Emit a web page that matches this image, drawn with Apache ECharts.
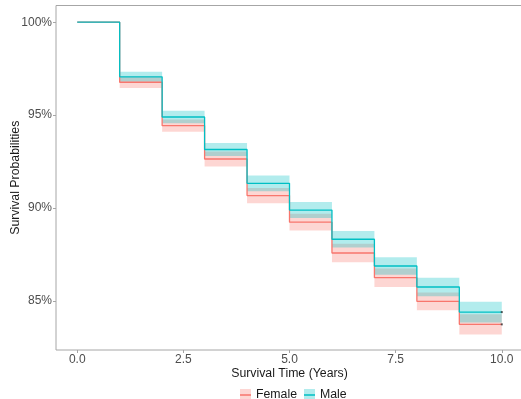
<!DOCTYPE html>
<html>
<head>
<meta charset="utf-8">
<script src="https://cdn.jsdelivr.net/npm/echarts@6/dist/echarts.min.js"></script>
<style>html,body{margin:0;padding:0;background:#fff}#c{width:521px;height:399px}</style>
</head>
<body>
<div id="c"></div>
<script>
// Time points (years); value i holds on [years[i], years[i+1]]
const years = [0, 1, 2, 3, 4, 5, 6, 7, 8, 9, 10];
const femaleSurv  = [100, 96.77, 94.43, 92.64, 90.67, 89.24, 87.58, 86.25, 84.98, 83.74];
const femaleLower = [100, 96.46, 94.10, 92.24, 90.26, 88.79, 87.08, 85.75, 84.50, 83.20];
const femaleUpper = [100, 97.08, 94.76, 93.04, 91.08, 89.69, 88.08, 86.75, 85.46, 84.28];
const maleSurv  = [100, 97.06, 94.90, 93.15, 91.33, 89.89, 88.32, 86.88, 85.75, 84.40];
const maleLower = [100, 96.79, 94.56, 92.80, 90.91, 89.46, 87.87, 86.41, 85.25, 83.84];
const maleUpper = [100, 97.33, 95.24, 93.50, 91.75, 90.32, 88.77, 87.35, 86.25, 84.96];
const xTicks = [0, 2.5, 5, 7.5, 10];
const yTicks = [85, 90, 95, 100];
const groups = ['Female', 'Male'];

const FEMALE = '#F8766D', MALE = '#00BFC4';
const FEMALE_BAND = 'rgba(248,118,109,0.3)', MALE_BAND = 'rgba(0,191,196,0.3)';
const FONT = '"Liberation Sans", Arial, sans-serif';
const LINE_SUFFIX = ' line';
const LINE_ICON = 'path://M0,0h0.02v0.02h-0.02z M0,5.3h11v1.4h-11z M10.98,11.98h0.02v0.02h-0.02z';

function stepData(surv) {
  return years.map((x, i) => [x, surv[Math.min(i, surv.length - 1)]]);
}
function bandData(lo, hi) {
  const out = [];
  for (let i = 1; i < lo.length; i++) out.push([years[i], years[i + 1], lo[i], hi[i]]);
  return out;
}
function bandSeries(name, lo, hi, color, z) {
  return {
    name: name, type: 'custom', z: z, silent: true,
    data: bandData(lo, hi),
    itemStyle: { color: color },
    encode: { x: [0, 1], y: [2, 3] },
    renderItem: function (params, api) {
      const p0 = api.coord([api.value(0), api.value(3)]);
      const p1 = api.coord([api.value(1), api.value(2)]);
      return { type: 'rect', shape: { x: p0[0], y: p0[1], width: p1[0] - p0[0], height: p1[1] - p0[1] },
               style: { fill: color } };
    }
  };
}
function lineSeries(name, surv, color, z) {
  return {
    name: name + LINE_SUFFIX, type: 'line', step: 'end', symbol: 'none', z: z, silent: true,
    data: stepData(surv),
    lineStyle: { color: color, width: 1.3 }, itemStyle: { color: color }
  };
}
function censorSeries(surv, z) {
  return {
    type: 'scatter', z: z, silent: true, symbol: 'rect', symbolSize: 2,
    data: [[years[years.length - 1], surv[surv.length - 1]]],
    itemStyle: { color: '#333' }
  };
}

const legendCommon = {
  orient: 'horizontal', left: 240, top: 389, itemWidth: 11, itemHeight: 12, itemGap: 7,
  selectedMode: false, padding: 0,
  formatter: n => n.replace(LINE_SUFFIX, ''),
  textStyle: { fontFamily: FONT, fontSize: 12.3, color: '#1a1a1a' }
};

const chart = echarts.init(document.getElementById('c'), null, { renderer: 'canvas' });
chart.setOption({
  animation: false,
  backgroundColor: '#ffffff',
  grid: { left: 56, top: 5.5, width: 467, height: 344.5, containLabel: false, outerBoundsMode: 'none',
          show: true, borderColor: '#a6a6a6', borderWidth: 1, backgroundColor: 'transparent' },
  legend: [
    Object.assign({}, legendCommon, {
      z: 5,
      data: [{ name: groups[0], icon: 'rect' }, { name: groups[1], icon: 'rect' }]
    }),
    Object.assign({}, legendCommon, {
      z: 6,
      data: [{ name: groups[0] + LINE_SUFFIX, icon: LINE_ICON }, { name: groups[1] + LINE_SUFFIX, icon: LINE_ICON }],
      textStyle: Object.assign({}, legendCommon.textStyle, { color: 'rgba(0,0,0,0)' })
    })
  ],
  xAxis: {
    type: 'value', min: -0.5, max: 10.5,
    axisLine: { show: false, onZero: false },
    axisTick: { show: true, customValues: xTicks, length: 3, lineStyle: { color: '#a6a6a6' } },
    axisLabel: { customValues: xTicks, formatter: v => v.toFixed(1), margin: 4, color: '#4d4d4d', fontFamily: FONT, fontSize: 12 },
    splitLine: { show: false },
    name: 'Survival Time (Years)', nameLocation: 'middle', nameGap: 18, nameMoveOverlap: false,
    nameTextStyle: { fontFamily: FONT, fontSize: 12.3, color: '#1a1a1a' }
  },
  yAxis: {
    type: 'value', min: 82.36, max: 100.9,
    axisLine: { show: false, onZero: false },
    axisTick: { show: true, customValues: yTicks, length: 3, lineStyle: { color: '#a6a6a6' } },
    axisLabel: { customValues: yTicks, formatter: v => v + '%', margin: 4, color: '#4d4d4d', fontFamily: FONT, fontSize: 12 },
    splitLine: { show: false },
    name: 'Survival Probabilities', nameLocation: 'middle', nameGap: 34, nameMoveOverlap: false,
    nameTextStyle: { fontFamily: FONT, fontSize: 12.3, color: '#1a1a1a' }
  },
  series: [
    bandSeries(groups[0], femaleLower, femaleUpper, FEMALE_BAND, 1),
    bandSeries(groups[1], maleLower, maleUpper, MALE_BAND, 2),
    lineSeries(groups[0], femaleSurv, FEMALE, 3),
    lineSeries(groups[1], maleSurv, MALE, 4),
    censorSeries(femaleSurv, 5),
    censorSeries(maleSurv, 5)
  ]
});
</script>
</body>
</html>
